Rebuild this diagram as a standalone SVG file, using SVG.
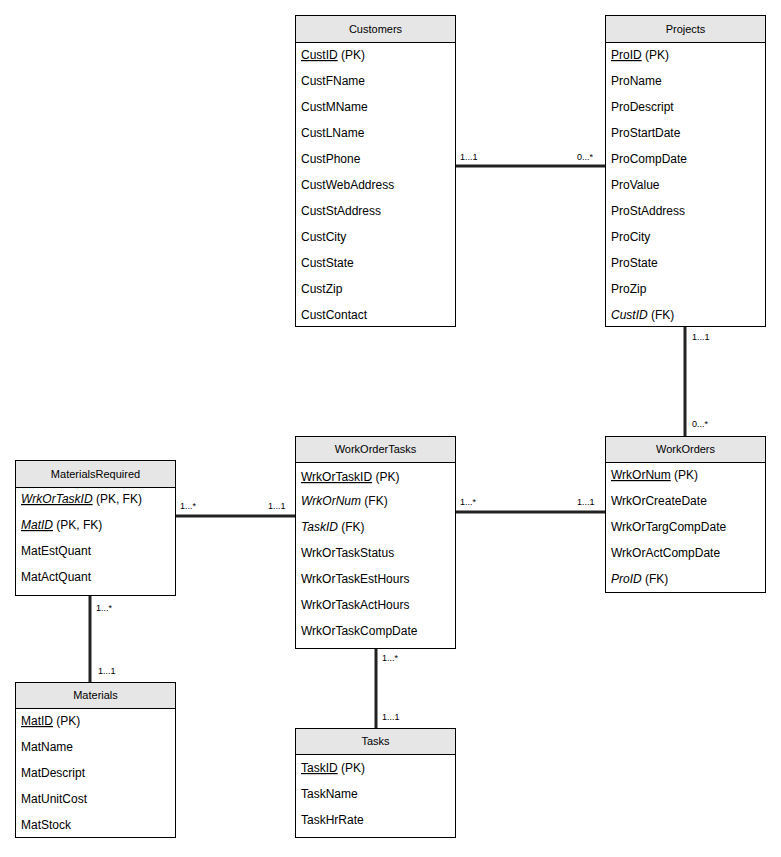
<svg xmlns="http://www.w3.org/2000/svg" width="781" height="857" viewBox="0 0 781 857">
<style>
.box{fill:#fff;stroke:#000;stroke-width:1}
.hdr{fill:#e6e6e6;stroke:#000;stroke-width:1}
.ht{font-family:"Liberation Sans",Arial,sans-serif;font-size:11px;fill:#000;text-anchor:middle}
.t{font-family:"Liberation Sans",Arial,sans-serif;font-size:12px;fill:#000}
.u{text-decoration:underline}
.i{font-style:italic}
.lbl{font-family:"Liberation Sans",Arial,sans-serif;font-size:9px;fill:#000}
.c{stroke:#222;stroke-width:3;fill:none}
</style>
<rect width="781" height="857" fill="#fff"/>
<g id="connectors">
<line class="c" x1="455" y1="166" x2="605" y2="166"/>
<text class="lbl" x="460" y="160">1...1</text>
<text class="lbl" x="577" y="160">0...*</text>
<line class="c" x1="685" y1="326" x2="685" y2="436"/>
<text class="lbl" x="692" y="340">1...1</text>
<text class="lbl" x="692" y="427">0...*</text>
<line class="c" x1="455" y1="512" x2="605" y2="512"/>
<text class="lbl" x="460" y="505">1...*</text>
<text class="lbl" x="577" y="505">1...1</text>
<line class="c" x1="175" y1="516" x2="295" y2="516"/>
<text class="lbl" x="180" y="509">1...*</text>
<text class="lbl" x="268" y="509">1...1</text>
<line class="c" x1="90" y1="595" x2="90" y2="682"/>
<text class="lbl" x="96" y="611">1...*</text>
<text class="lbl" x="98" y="674">1...1</text>
<line class="c" x1="376" y1="648" x2="376" y2="728"/>
<text class="lbl" x="382" y="661">1...*</text>
<text class="lbl" x="382" y="720">1...1</text>
</g>
<g id="Customers">
<rect class="box" x="295.5" y="15.5" width="160" height="311"/>
<rect class="hdr" x="295.5" y="15.5" width="160" height="27"/>
<text class="ht" x="375.5" y="33">Customers</text>
<text class="t" x="301" y="59"><tspan class="u">CustID</tspan> (PK)</text>
<text class="t" x="301" y="85">CustFName</text>
<text class="t" x="301" y="111">CustMName</text>
<text class="t" x="301" y="137">CustLName</text>
<text class="t" x="301" y="163">CustPhone</text>
<text class="t" x="301" y="189">CustWebAddress</text>
<text class="t" x="301" y="215">CustStAddress</text>
<text class="t" x="301" y="241">CustCity</text>
<text class="t" x="301" y="267">CustState</text>
<text class="t" x="301" y="293">CustZip</text>
<text class="t" x="301" y="319">CustContact</text>
</g>
<g id="Projects">
<rect class="box" x="605.5" y="15.5" width="160" height="311"/>
<rect class="hdr" x="605.5" y="15.5" width="160" height="27"/>
<text class="ht" x="685.5" y="33">Projects</text>
<text class="t" x="611" y="59"><tspan class="u">ProID</tspan> (PK)</text>
<text class="t" x="611" y="85">ProName</text>
<text class="t" x="611" y="111">ProDescript</text>
<text class="t" x="611" y="137">ProStartDate</text>
<text class="t" x="611" y="163">ProCompDate</text>
<text class="t" x="611" y="189">ProValue</text>
<text class="t" x="611" y="215">ProStAddress</text>
<text class="t" x="611" y="241">ProCity</text>
<text class="t" x="611" y="267">ProState</text>
<text class="t" x="611" y="293">ProZip</text>
<text class="t" x="611" y="319"><tspan class="i">CustID</tspan> (FK)</text>
</g>
<g id="WorkOrders">
<rect class="box" x="605.5" y="436.5" width="160" height="156"/>
<rect class="hdr" x="605.5" y="436.5" width="160" height="26"/>
<text class="ht" x="685.5" y="453">WorkOrders</text>
<text class="t" x="611" y="479"><tspan class="u">WrkOrNum</tspan> (PK)</text>
<text class="t" x="611" y="505">WrkOrCreateDate</text>
<text class="t" x="611" y="531">WrkOrTargCompDate</text>
<text class="t" x="611" y="557">WrkOrActCompDate</text>
<text class="t" x="611" y="583"><tspan class="i">ProID</tspan> (FK)</text>
</g>
<g id="WorkOrderTasks">
<rect class="box" x="295.5" y="436.5" width="160" height="212"/>
<rect class="hdr" x="295.5" y="436.5" width="160" height="26"/>
<text class="ht" x="375.5" y="453">WorkOrderTasks</text>
<text class="t" x="301" y="481"><tspan class="u">WrkOrTaskID</tspan> (PK)</text>
<text class="t" x="301" y="505"><tspan class="i">WrkOrNum</tspan> (FK)</text>
<text class="t" x="301" y="531"><tspan class="i">TaskID</tspan> (FK)</text>
<text class="t" x="301" y="557">WrkOrTaskStatus</text>
<text class="t" x="301" y="583">WrkOrTaskEstHours</text>
<text class="t" x="301" y="609">WrkOrTaskActHours</text>
<text class="t" x="301" y="635">WrkOrTaskCompDate</text>
</g>
<g id="MaterialsRequired">
<rect class="box" x="15.5" y="460.5" width="160" height="135"/>
<rect class="hdr" x="15.5" y="460.5" width="160" height="27"/>
<text class="ht" x="95.5" y="478">MaterialsRequired</text>
<text class="t" x="21" y="503"><tspan class="u i">WrkOrTaskID</tspan> (PK, FK)</text>
<text class="t" x="21" y="529"><tspan class="u i">MatID</tspan> (PK, FK)</text>
<text class="t" x="21" y="555">MatEstQuant</text>
<text class="t" x="21" y="581">MatActQuant</text>
</g>
<g id="Materials">
<rect class="box" x="15.5" y="682.5" width="160" height="155"/>
<rect class="hdr" x="15.5" y="682.5" width="160" height="26"/>
<text class="ht" x="95.5" y="699">Materials</text>
<text class="t" x="21" y="725"><tspan class="u">MatID</tspan> (PK)</text>
<text class="t" x="21" y="751">MatName</text>
<text class="t" x="21" y="777">MatDescript</text>
<text class="t" x="21" y="803">MatUnitCost</text>
<text class="t" x="21" y="829">MatStock</text>
</g>
<g id="Tasks">
<rect class="box" x="295.5" y="728.5" width="160" height="109"/>
<rect class="hdr" x="295.5" y="728.5" width="160" height="26"/>
<text class="ht" x="375.5" y="745">Tasks</text>
<text class="t" x="301" y="772"><tspan class="u">TaskID</tspan> (PK)</text>
<text class="t" x="301" y="798">TaskName</text>
<text class="t" x="301" y="824">TaskHrRate</text>
</g>
</svg>
